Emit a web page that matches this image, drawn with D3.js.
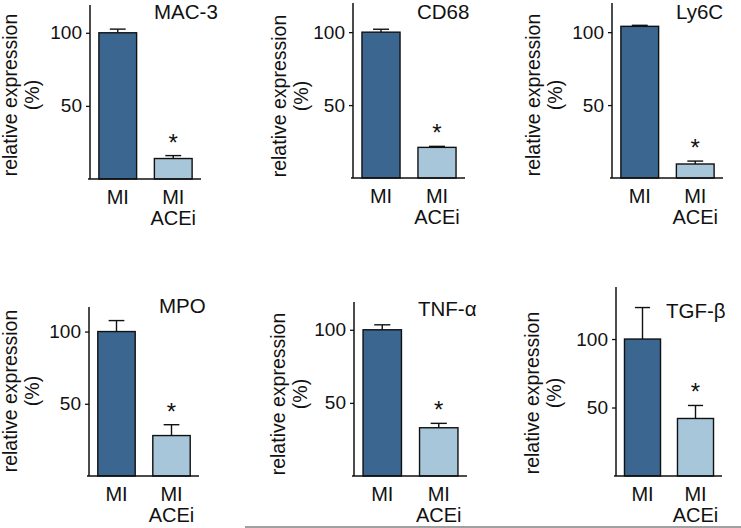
<!DOCTYPE html>
<html>
<head>
<meta charset="utf-8">
<script src="https://cdn.jsdelivr.net/npm/d3@7"></script>
<style>
  html, body { margin: 0; padding: 0; background: #fff; }
  svg text { font-family: "Liberation Sans", Arial, Helvetica, sans-serif; fill: #111; }
</style>
</head>
<body>
<svg id="chart" width="741" height="528"></svg>
<script>
// ---- data ----
const markers = ["MAC-3", "CD68", "Ly6C", "MPO", "TNF-\u03b1", "TGF-\u03b2"];
const groups = ["MI", "MI ACEi"];
const groupLabels = [["MI"], ["MI", "ACEi"]];
const miValues = [100, 100, 104, 100, 100, 100];
const miErrors = [2.5, 2, 0.7, 7.6, 3.4, 23];
const aceValues = [14, 21, 9.6, 28, 33, 42];
const aceErrors = [2, 0.7, 2, 7.5, 3, 9.5];
const significant = [true, true, true, true, true, true];
const yMaxes = [119, 120, 120, 117, 119, 138];
const yTicks = [50, 100];
const yTitle = ["relative expression", "(%)"];

// ---- layout (positions only) ----
const layout = [
  { ax: 90,  x1: 201, top: 5,   base: 179, titleX: 154, titleY: 19,  ylabX: 17,  ylabY: 95 },
  { ax: 353, x1: 465, top: 3,   base: 178, titleX: 417, titleY: 19,  ylabX: 286, ylabY: 96 },
  { ax: 612, x1: 723, top: 3,   base: 178, titleX: 676, titleY: 19,  ylabX: 540, ylabY: 95 },
  { ax: 89,  x1: 199, top: 307, base: 476, titleX: 159, titleY: 313, ylabX: 17,  ylabY: 391 },
  { ax: 354, x1: 467, top: 302, base: 476, titleX: 418, titleY: 316, ylabX: 285, ylabY: 394 },
  { ax: 616, x1: 722, top: 287, base: 476, titleX: 666, titleY: 318, ylabX: 539, ylabY: 393 }
];
const colors = ["#3a668f", "#a8c6d9"];

const svg = d3.select("#chart");

markers.forEach((name, i) => {
  const L = layout[i];
  const g = svg.append("g");
  const x = d3.scaleBand().domain(groups).range([L.ax, L.x1]).paddingInner(0.32).paddingOuter(0.16);
  const y = d3.scaleLinear().domain([0, yMaxes[i]]).range([L.base, L.top]);
  const vals = [miValues[i], aceValues[i]];
  const errs = [miErrors[i], aceErrors[i]];

  // error bars (upper only), drawn behind bars
  const capW = x.bandwidth() * 0.42;
  groups.forEach((grp, k) => {
    const cx = x(grp) + x.bandwidth() / 2;
    g.append("line").attr("x1", cx).attr("x2", cx)
      .attr("y1", y(vals[k])).attr("y2", y(vals[k] + errs[k]))
      .attr("stroke", "#111").attr("stroke-width", 1.4);
    g.append("line").attr("x1", cx - capW / 2).attr("x2", cx + capW / 2)
      .attr("y1", y(vals[k] + errs[k])).attr("y2", y(vals[k] + errs[k]))
      .attr("stroke", "#111").attr("stroke-width", 1.4);
  });

  // bars
  g.selectAll("rect.bar").data(groups).enter().append("rect")
    .attr("x", d => x(d))
    .attr("y", (d, k) => y(vals[k]))
    .attr("width", x.bandwidth())
    .attr("height", (d, k) => y(0) - y(vals[k]))
    .attr("fill", (d, k) => colors[k])
    .attr("stroke", "#111").attr("stroke-width", 1.4);

  // significance star
  if (significant[i]) {
    const cx = x(groups[1]) + x.bandwidth() / 2;
    g.append("text").attr("x", cx).attr("y", y(aceValues[i] + aceErrors[i]) - 5)
      .attr("text-anchor", "middle").attr("font-size", 24).text("*");
  }

  // y axis
  const yAxis = d3.axisLeft(y).tickValues(yTicks).tickSize(4).tickPadding(4).tickFormat(d3.format("d"));
  const ya = g.append("g").attr("transform", `translate(${L.ax},0)`).call(yAxis);
  ya.select(".domain").remove();
  ya.selectAll(".tick line").attr("stroke", "#111").attr("stroke-width", 1.3);
  ya.selectAll(".tick text").attr("font-size", 19).attr("fill", "#111")
    .attr("font-family", '"Liberation Sans", Arial, sans-serif');
  g.append("line").attr("x1", L.ax).attr("x2", L.ax).attr("y1", L.top).attr("y2", L.base)
    .attr("stroke", "#111").attr("stroke-width", 1.5);
  // x axis line
  g.append("line").attr("x1", L.ax - 2).attr("x2", L.x1).attr("y1", L.base).attr("y2", L.base)
    .attr("stroke", "#111").attr("stroke-width", 1.5);

  // x labels
  groups.forEach((grp, k) => {
    const cx = x(grp) + x.bandwidth() / 2;
    groupLabels[k].forEach((line, j) => {
      g.append("text").attr("x", cx).attr("y", L.base + 25 + j * 21)
        .attr("text-anchor", "middle").attr("font-size", 20).text(line);
    });
  });

  // y title
  yTitle.forEach((line, j) => {
    g.append("text")
      .attr("transform", `translate(${L.ylabX + j * 22},${L.ylabY}) rotate(-90)`)
      .attr("text-anchor", "middle").attr("font-size", 19.5).text(line);
  });

  // panel title
  g.append("text").attr("x", L.titleX).attr("y", L.titleY)
    .attr("font-size", 20.5).text(name);
});

// bottom separator line
svg.append("line").attr("x1", 245).attr("x2", 741).attr("y1", 527).attr("y2", 527)
  .attr("stroke", "#808080").attr("stroke-width", 1.5);
</script>
</body>
</html>
